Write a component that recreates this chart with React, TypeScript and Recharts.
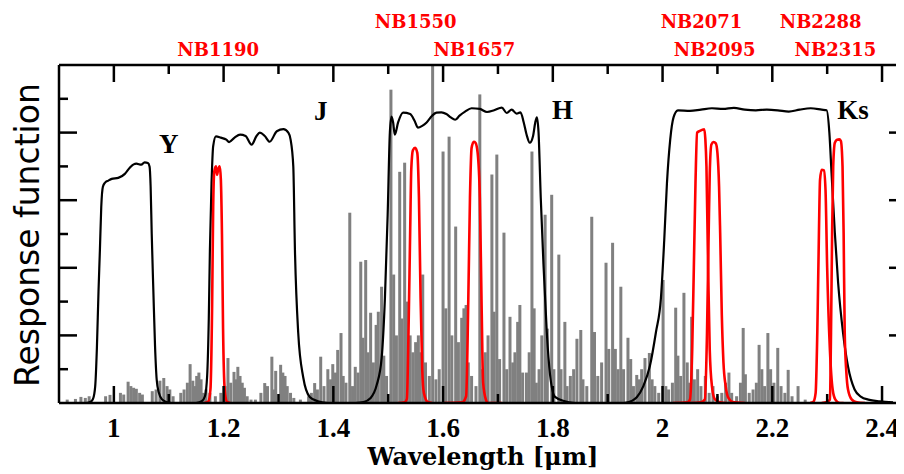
import React from "react";
import { ComposedChart, Bar, Line, XAxis, YAxis, ReferenceLine, ReferenceDot } from "recharts";

// plot box (chart coords)
const PLOT_W = 848;
const PLOT_H = 338;

const xTicks = [1, 1.1, 1.2, 1.3, 1.4, 1.5, 1.6, 1.7, 1.8, 1.9, 2, 2.1, 2.2, 2.3, 2.4];
const yTicks = [0.1, 0.2, 0.3, 0.4, 0.5, 0.6, 0.7, 0.8, 0.9];

// OH sky emission lines: [wavelength um, relative flux]
const skyLines: [number, number][] = [
  [0.915, 0.01], [0.93, 0.012], [0.94, 0.018], [0.948, 0.015], [0.955, 0.02], [0.985, 0.02], [0.993, 0.024],
  [1.012, 0.03], [1.018, 0.025], [1.026, 0.063], [1.031, 0.05], [1.036, 0.045], [1.041, 0.042], [1.047, 0.03],
  [1.052, 0.025], [1.07, 0.035], [1.077, 0.04], [1.084, 0.066], [1.091, 0.074], [1.097, 0.05], [1.102, 0.04],
  [1.108, 0.02], [1.122, 0.03], [1.128, 0.04], [1.134, 0.06], [1.139, 0.115], [1.144, 0.066], [1.148, 0.05],
  [1.151, 0.08], [1.155, 0.09], [1.159, 0.07], [1.163, 0.03], [1.168, 0.04], [1.175, 0.03], [1.185, 0.02],
  [1.195, 0.03], [1.203, 0.05], [1.208, 0.133], [1.213, 0.06], [1.219, 0.092], [1.223, 0.07], [1.226, 0.107],
  [1.23, 0.08], [1.234, 0.06], [1.238, 0.045], [1.243, 0.02], [1.25, 0.01], [1.258, 0.01], [1.268, 0.03],
  [1.275, 0.059], [1.28, 0.05], [1.288, 0.137], [1.292, 0.04], [1.295, 0.095], [1.304, 0.113], [1.308, 0.09],
  [1.312, 0.08], [1.316, 0.05], [1.322, 0.03], [1.328, 0.015], [1.34, 0.01], [1.355, 0.02], [1.36, 0.03],
  [1.366, 0.059], [1.371, 0.04], [1.377, 0.137], [1.383, 0.05], [1.39, 0.1], [1.395, 0.07], [1.399, 0.115],
  [1.404, 0.09], [1.408, 0.157], [1.414, 0.207], [1.418, 0.08], [1.423, 0.06], [1.43, 0.563], [1.435, 0.05],
  [1.44, 0.107], [1.445, 0.09], [1.45, 0.418], [1.454, 0.193], [1.459, 0.423], [1.463, 0.15], [1.468, 0.267],
  [1.473, 0.12], [1.478, 0.231], [1.482, 0.27], [1.488, 0.344], [1.492, 0.14], [1.497, 0.08], [1.505, 0.927],
  [1.51, 0.38], [1.515, 0.2], [1.521, 0.684], [1.525, 0.25], [1.53, 0.711], [1.535, 0.3], [1.54, 0.2],
  [1.545, 0.15], [1.55, 0.18], [1.555, 0.2], [1.558, 0.15], [1.563, 0.38], [1.568, 0.12], [1.575, 0.08],
  [1.581, 1.0], [1.587, 0.07], [1.593, 0.1], [1.6, 0.744], [1.605, 0.28], [1.611, 0.788], [1.616, 0.2],
  [1.623, 0.522], [1.628, 0.18], [1.634, 0.252], [1.638, 0.28], [1.642, 0.29], [1.646, 0.12], [1.652, 0.08],
  [1.66, 0.05], [1.667, 0.913], [1.672, 0.1], [1.677, 0.15], [1.682, 0.2], [1.689, 0.676], [1.693, 0.27],
  [1.698, 0.735], [1.703, 0.13], [1.711, 0.504], [1.716, 0.1], [1.722, 0.255], [1.727, 0.12], [1.731, 0.15],
  [1.736, 0.24], [1.74, 0.29], [1.745, 0.09], [1.752, 0.09], [1.757, 0.15], [1.762, 0.744], [1.766, 0.28],
  [1.77, 0.06], [1.775, 0.1], [1.78, 0.2], [1.786, 0.557], [1.79, 0.22], [1.798, 0.616], [1.802, 0.1],
  [1.811, 0.439], [1.815, 0.1], [1.822, 0.24], [1.826, 0.05], [1.832, 0.08], [1.838, 0.1], [1.844, 0.19],
  [1.851, 0.216], [1.855, 0.07], [1.862, 0.05], [1.871, 0.551], [1.876, 0.21], [1.882, 0.08], [1.889, 0.12],
  [1.897, 0.415], [1.902, 0.16], [1.909, 0.474], [1.914, 0.16], [1.919, 0.1], [1.924, 0.344], [1.929, 0.1],
  [1.937, 0.193], [1.942, 0.13], [1.947, 0.05], [1.953, 0.083], [1.958, 0.07], [1.962, 0.1], [1.968, 0.133],
  [1.976, 0.148], [1.981, 0.07], [1.986, 0.05], [1.993, 0.03], [2.001, 0.364], [2.006, 0.05], [2.011, 0.04],
  [2.018, 0.06], [2.024, 0.282], [2.028, 0.14], [2.033, 0.08], [2.039, 0.326], [2.045, 0.12], [2.049, 0.06],
  [2.053, 0.255], [2.058, 0.07], [2.064, 0.1], [2.07, 0.05], [2.078, 0.08], [2.085, 0.03], [2.092, 0.05],
  [2.1, 0.02], [2.108, 0.03], [2.115, 0.06], [2.121, 0.09], [2.126, 0.03], [2.135, 0.02], [2.142, 0.06],
  [2.147, 0.222], [2.151, 0.085], [2.158, 0.03], [2.165, 0.04], [2.171, 0.06], [2.176, 0.172], [2.181, 0.1],
  [2.186, 0.05], [2.192, 0.207], [2.197, 0.1], [2.203, 0.06], [2.21, 0.163], [2.216, 0.05], [2.223, 0.03],
  [2.229, 0.098], [2.236, 0.02], [2.247, 0.05], [2.26, 0.01],
];

// broad-band filters
const yBand: [number, number][] = [
  [0.95, 0], [0.958, 0.004], [0.962, 0.012], [0.966, 0.05], [0.969, 0.16], [0.972, 0.33], [0.9745, 0.45],
  [0.977, 0.58], [0.98, 0.64], [0.984, 0.652], [0.99, 0.658], [0.996, 0.663], [1.008, 0.666], [1.02, 0.678],
  [1.029, 0.696], [1.036, 0.706], [1.041, 0.708], [1.05, 0.705], [1.056, 0.712], [1.062, 0.71], [1.065, 0.7],
  [1.067, 0.64], [1.069, 0.5], [1.072, 0.33], [1.075, 0.17], [1.078, 0.07], [1.082, 0.03], [1.088, 0.01],
  [1.096, 0.003], [1.105, 0],
];
const jBand: [number, number][] = [
  [1.15, 0], [1.16, 0.005], [1.166, 0.02], [1.17, 0.08], [1.173, 0.25], [1.175, 0.45], [1.178, 0.65],
  [1.181, 0.76], [1.186, 0.789], [1.195, 0.785], [1.205, 0.779], [1.21, 0.772], [1.22, 0.785], [1.23, 0.794],
  [1.24, 0.79], [1.251, 0.764], [1.26, 0.79], [1.266, 0.8], [1.275, 0.79], [1.284, 0.773], [1.297, 0.804],
  [1.309, 0.81], [1.318, 0.8], [1.322, 0.78], [1.327, 0.7], [1.33, 0.453], [1.336, 0.207], [1.345, 0.077],
  [1.357, 0.018], [1.372, 0.005], [1.39, 0],
];
const hBand: [number, number][] = [
  [1.44, 0], [1.455, 0.003], [1.468, 0.015], [1.479, 0.053], [1.488, 0.133], [1.494, 0.31], [1.499, 0.557],
  [1.503, 0.8], [1.506, 0.847], [1.509, 0.83], [1.512, 0.794], [1.518, 0.83], [1.527, 0.859], [1.54, 0.855],
  [1.548, 0.835], [1.554, 0.815], [1.562, 0.82], [1.57, 0.83], [1.58, 0.85], [1.588, 0.859], [1.597, 0.86],
  [1.606, 0.855], [1.614, 0.845], [1.622, 0.838], [1.63, 0.85], [1.64, 0.862], [1.652, 0.872], [1.667, 0.87],
  [1.68, 0.861], [1.693, 0.866], [1.707, 0.874], [1.716, 0.858], [1.725, 0.868], [1.734, 0.856], [1.741, 0.86],
  [1.747, 0.83], [1.752, 0.795], [1.758, 0.77], [1.764, 0.79], [1.768, 0.83], [1.771, 0.845], [1.774, 0.8],
  [1.778, 0.607], [1.783, 0.409], [1.789, 0.21], [1.795, 0.083], [1.804, 0.018], [1.822, 0.005], [1.84, 0],
];
const ksBand: [number, number][] = [
  [1.93, 0], [1.945, 0.007], [1.953, 0.017], [1.965, 0.05], [1.977, 0.11], [1.988, 0.21], [1.997, 0.31],
  [2.003, 0.48], [2.008, 0.65], [2.014, 0.78], [2.02, 0.845], [2.028, 0.866], [2.05, 0.864], [2.07, 0.868],
  [2.09, 0.872], [2.11, 0.87], [2.13, 0.873], [2.15, 0.868], [2.17, 0.866], [2.19, 0.868], [2.21, 0.866],
  [2.23, 0.862], [2.25, 0.868], [2.27, 0.872], [2.29, 0.868], [2.299, 0.866], [2.304, 0.8], [2.308, 0.68],
  [2.314, 0.503], [2.32, 0.355], [2.329, 0.207], [2.338, 0.108], [2.35, 0.04], [2.362, 0.018], [2.375, 0.01],
  [2.396, 0.005], [2.42, 0.002],
];

// narrow-band filters
const nb1190: [number, number][] = [
  [1.165, 0], [1.172, 0.004], [1.176, 0.04], [1.179, 0.28], [1.181, 0.58], [1.183, 0.685], [1.186, 0.7],
  [1.188, 0.675], [1.19, 0.69], [1.193, 0.7], [1.195, 0.66], [1.197, 0.5], [1.199, 0.22], [1.202, 0.04],
  [1.206, 0.004], [1.212, 0],
];
const nb1550: [number, number][] = [
  [1.518, 0], [1.53, 0.002], [1.534, 0.012], [1.537, 0.21], [1.54, 0.506], [1.542, 0.69], [1.545, 0.748],
  [1.549, 0.755], [1.553, 0.74], [1.556, 0.607], [1.559, 0.31], [1.562, 0.1], [1.565, 0.03], [1.572, 0.003],
  [1.58, 0],
];
const nb1657: [number, number][] = [
  [1.6, 0], [1.635, 0.002], [1.642, 0.02], [1.646, 0.31], [1.649, 0.607], [1.652, 0.755], [1.656, 0.773],
  [1.659, 0.77], [1.663, 0.74], [1.667, 0.607], [1.67, 0.31], [1.673, 0.06], [1.678, 0.01], [1.682, 0],
  [1.707, 0],
];
const nb2071: [number, number][] = [
  [2.019, 0], [2.045, 0.002], [2.05, 0.01], [2.054, 0.16], [2.057, 0.4], [2.06, 0.65], [2.063, 0.8],
  [2.068, 0.805], [2.072, 0.808], [2.076, 0.81], [2.078, 0.78], [2.08, 0.7], [2.083, 0.4], [2.086, 0.157],
  [2.09, 0.05], [2.095, 0.012], [2.105, 0.002], [2.117, 0],
];
const nb2095: [number, number][] = [
  [2.05, 0], [2.07, 0.002], [2.077, 0.01], [2.081, 0.207], [2.084, 0.5], [2.086, 0.68], [2.089, 0.765],
  [2.093, 0.772], [2.097, 0.768], [2.1, 0.74], [2.103, 0.64], [2.105, 0.503], [2.108, 0.26], [2.111, 0.12],
  [2.115, 0.05], [2.12, 0.015], [2.128, 0.003], [2.15, 0],
];
const nb2288: [number, number][] = [
  [2.269, 0], [2.275, 0.004], [2.279, 0.03], [2.282, 0.207], [2.285, 0.503], [2.287, 0.66], [2.29, 0.69],
  [2.294, 0.688], [2.297, 0.63], [2.3, 0.4], [2.305, 0.157], [2.31, 0.04], [2.315, 0.01], [2.323, 0],
  [2.33, 0],
];
const nb2315: [number, number][] = [
  [2.29, 0], [2.3, 0.003], [2.305, 0.01], [2.307, 0.207], [2.309, 0.5], [2.311, 0.7], [2.314, 0.77],
  [2.318, 0.779], [2.322, 0.78], [2.325, 0.775], [2.328, 0.7], [2.33, 0.503], [2.332, 0.207], [2.335, 0.09],
  [2.338, 0.04], [2.345, 0.01], [2.354, 0.002], [2.369, 0],
];

// labels: [text, wavelength, height]
const bandLabels: [string, number, number][] = [
  ["Y", 1.1, 0.767], ["J", 1.377, 0.865], ["H", 1.8175, 0.868], ["Ks", 2.347, 0.868],
];
const nbLabels: [string, number, number][] = [
  ["NB1190", 1.19, 1.046], ["NB1550", 1.55, 1.127], ["NB1657", 1.657, 1.046], ["NB2071", 2.071, 1.127],
  ["NB2095", 2.095, 1.046], ["NB2288", 2.288, 1.127], ["NB2315", 2.315, 1.046],
];

const toRows = (arr: [number, number][]) => arr.map(([w, t]) => ({ w, t }));
const skyData = skyLines.map(([w, f]) => ({ w, f }));
const broad = [yBand, jBand, hBand, ksBand].map(toRows);
const narrow = [nb1190, nb1550, nb1657, nb2071, nb2095, nb2288, nb2315].map(toRows);

const serif = "'Liberation Serif', 'DejaVu Serif', serif";
const dvSerif = "'DejaVu Serif', serif";

function XTick(props: any) {
  const { x, y, payload } = props;
  const v = payload.value;
  const major = Math.round(v * 10) % 2 === 0;
  const len = major ? 17 : 9;
  return (
    <g>
      <line x1={x} x2={x} y1={y} y2={y - len} stroke="#000" strokeWidth={2.5} />
      <line x1={x} x2={x} y1={y - PLOT_H} y2={y - PLOT_H + len} stroke="#000" strokeWidth={2.5} />
      {major && (
        <text x={x} y={y + 34} textAnchor="middle" fontFamily={serif} fontWeight="bold" fontSize={27} fill="#000">
          {String(Number(v.toFixed(1)))}
        </text>
      )}
    </g>
  );
}

function YTick(props: any) {
  const { x, y, payload } = props;
  const major = Math.round(payload.value * 10) % 2 === 0;
  const len = major ? 18 : 9;
  return (
    <g>
      <line x1={x} x2={x + len} y1={y} y2={y} stroke="#000" strokeWidth={2.5} />
      <line x1={x + PLOT_W} x2={x + PLOT_W - len} y1={y} y2={y} stroke="#000" strokeWidth={2.5} />
    </g>
  );
}

// sky line drawn as a 3px spike centred on its wavelength
function Spike(props: any) {
  const { x, y, width, height } = props;
  if (!height || height <= 0) return null;
  return <rect x={x + width / 2 - 1.5} y={y} width={3} height={height} fill="#808080" />;
}

export default function App() {
  return (
    <div style={{ width: 896, height: 466, overflow: "hidden", background: "#fff" }}>
      <ComposedChart
        width={905}
        height={466}
        data={skyData}
        margin={{ top: 57, right: 6, bottom: 70, left: 50 }}
      >
        <XAxis
          dataKey="w"
          type="number"
          domain={[0.9, 2.4455]}
          allowDataOverflow
          ticks={xTicks}
          interval={0}
          height={1}
          tickSize={0}
          tickMargin={0}
          tick={<XTick />}
          axisLine={{ stroke: "#000", strokeWidth: 2.5 }}
          label={{
            value: "Wavelength [\u03bcm]",
            position: "bottom",
            offset: 44,
            fontFamily: dvSerif,
            fontWeight: "bold",
            fontSize: 24,
            fill: "#000",
          }}
        />
        <YAxis
          type="number"
          domain={[0, 1]}
          allowDataOverflow
          ticks={yTicks}
          interval={0}
          width={1}
          tickSize={0}
          tickMargin={0}
          tick={<YTick />}
          axisLine={{ stroke: "#000", strokeWidth: 2.5 }}
          label={{
            content: () => (
              <text
                x={31}
                y={227}
                transform="rotate(-90 31 227)"
                textAnchor="middle"
                fontFamily="'DejaVu Sans', sans-serif"
                fontSize={33}
                fill="#000"
              >
                Response function
              </text>
            ),
          }}
        />
        <Bar dataKey="f" fill="#808080" barSize={3} shape={<Spike />} isAnimationActive={false} />
        {broad.map((d, i) => (
          <Line
            key={"b" + i}
            data={d}
            dataKey="t"
            type="monotone"
            stroke="#000"
            strokeWidth={2.2}
            dot={false}
            activeDot={false}
            isAnimationActive={false}
          />
        ))}
        {narrow.map((d, i) => (
          <Line
            key={"n" + i}
            data={d}
            dataKey="t"
            type="monotone"
            stroke="#ff0000"
            strokeWidth={2.6}
            dot={false}
            activeDot={false}
            isAnimationActive={false}
          />
        ))}
        <ReferenceLine y={1} stroke="#000" strokeWidth={2.5} ifOverflow="visible" />
        {bandLabels.map(([t, w, h]) => (
          <ReferenceDot
            key={t}
            x={w}
            y={h}
            r={0}
            fill="none"
            stroke="none"
            ifOverflow="visible"
            label={{ value: t, position: "center", fontFamily: serif, fontWeight: "bold", fontSize: 27, fill: "#000" }}
          />
        ))}
        {nbLabels.map(([t, w, h]) => (
          <ReferenceDot
            key={t}
            x={w}
            y={h}
            r={0}
            fill="none"
            stroke="none"
            ifOverflow="visible"
            label={{ value: t, position: "center", fontFamily: dvSerif, fontWeight: "bold", fontSize: 18, fill: "#ff0000" }}
          />
        ))}
      </ComposedChart>
    </div>
  );
}
